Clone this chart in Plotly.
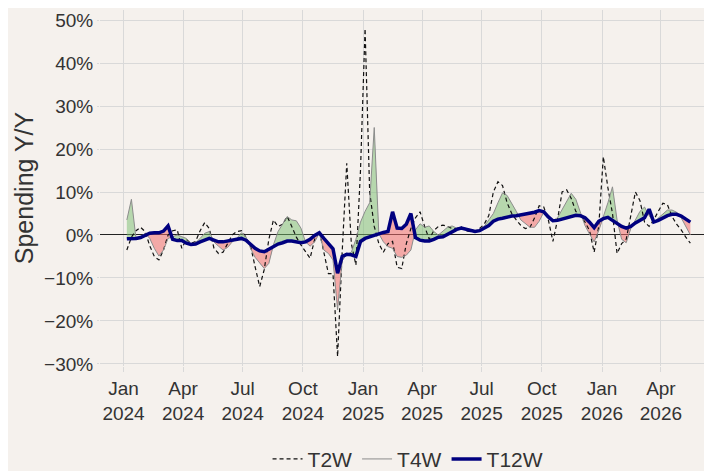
import numpy as np
import pandas as pd
import plotly.graph_objects as go

# weekly observation dates (week ending)
start_date = "2024-01-06"
n_weeks = 124
dates = pd.date_range(start_date, periods=n_weeks, freq="7D")

t2w = [-3.5, -0.5, 1.0, 1.8, 0.8, -2.5, -5.0, -5.8, -3.5, 0.0,
       1.0, 1.2, -3.1, -1.0, -2.0, -1.5, 1.0, 2.9, 1.5, -3.0,
       -4.3, -4.0, -2.0, 0.0, 0.8, 1.0, -0.5, -2.5, -7.4, -12.0,
       -8.0, -1.0, 3.5, 2.0, 2.5, 4.3, 2.0, -0.5, -2.3, -4.0,
       -5.4, -1.0, 1.0, -4.0, -9.0, -9.0, -28.3, -4.0, 16.7, -2.0,
       -7.0, 15.0, 48.0, 10.0, 2.0, -2.0, -4.0, -2.0, -1.5, -7.5,
       -7.8, -2.0, 1.5, 4.0, 5.4, 2.0, -1.0, 1.0, 2.0, 2.3,
       2.0, 1.5, 1.5, 1.9, 1.0, 0.8, 0.8, 1.5, 2.5, 4.5,
       10.0, 12.4, 11.5, 7.5, 5.0, 3.5, 2.2, 1.5, 1.8, 4.0,
       6.8, 6.5, 3.5, -1.5, 3.5, 10.0, 10.5, 8.5, 5.5, 4.5,
       3.0, 1.0, -4.0, 2.0, 18.2, 11.0, 5.0, -4.3, -2.0, -1.0,
       4.3, 10.0, 8.0, 3.0, 2.0, 3.5, 5.5, 7.4, 7.0, 4.3,
       2.5, 1.2, -0.5, -1.9]

t4w = [3.5, 8.3, -0.8, -0.4, 0.4, -0.8, -3.1, -4.9, -3.5, -0.8,
       -0.4, 0.0, -0.4, -0.8, -2.1, -1.8, -0.8, 0.4, 0.8, -1.6,
       -2.6, -3.5, -2.9, -1.6, -0.8, 0.5, -0.4, -3.1, -5.2, -6.6,
       -7.8, -6.6, -2.3, 0.8, 2.7, 4.3, 3.5, 3.3, 1.6, -1.6,
       -2.6, -1.6, 0.4, -3.5, -4.3, -5.8, -17.4, -6.0, -4.5, -4.0,
       -1.0, 3.0, 5.5, 7.5, 25.0, 0.3, -1.6, -2.7, -3.1, -5.0,
       -5.2, -4.7, -3.5, 1.2, 2.6, 1.8, 2.1, 0.8, 0.0, 0.8,
       1.8, 2.1, 1.6, 1.8, 1.5, 1.2, 1.0, 1.2, 2.0, 3.5,
       5.0, 7.5, 9.8, 9.2, 7.5, 5.5, 3.5, 2.7, 1.8, 1.8,
       3.2, 5.3, 4.3, 3.4, 4.0, 6.0, 8.0, 9.7, 8.3, 5.0,
       2.2, 0.2, -1.6, 1.0, 4.0, 7.5, 11.2, 3.5, -1.0, -1.8,
       1.5, 3.5, 5.5, 6.5, 4.5, 3.0, 4.0, 5.0, 5.8, 5.8,
       5.3, 4.0, 2.0, 0.0]

t12w = [-0.9, -0.9, -0.8, -0.6, -0.2, 0.4, 0.5, 0.5, 0.9, 2.1,
        -1.0, -1.3, -1.3, -1.9, -2.2, -2.1, -1.6, -1.3, -0.8, -1.2,
        -1.6, -1.6, -1.4, -1.2, -1.0, -0.8, -1.2, -2.1, -3.1, -3.7,
        -3.9, -3.3, -2.6, -2.1, -1.8, -1.4, -1.4, -1.6, -1.8, -1.6,
        -1.0, -0.1, 0.5, -0.8, -1.9, -3.2, -8.9, -5.0, -4.5, -4.6,
        -5.0, -1.5, -0.8, -0.4, -0.2, 0.2, 0.6, 0.8, 5.4, 1.6,
        1.5, 2.5, 5.0, -0.6, -1.2, -1.4, -1.4, -1.0, -0.5, -0.4,
        0.2, 0.8, 1.3, 1.6, 1.3, 1.0, 0.8, 1.0, 1.5, 2.2,
        3.2, 3.7, 3.9, 4.2, 4.4, 4.5, 4.7, 4.8, 5.1, 5.3,
        5.7, 5.4, 4.2, 3.3, 3.4, 3.7, 4.1, 4.5, 4.6, 4.5,
        4.0, 3.0, 1.7, 3.2, 3.8, 4.1, 3.4, 2.6, 2.0, 1.6,
        2.0, 2.8, 3.4, 4.0, 6.0, 3.0, 3.4, 4.0, 4.5, 4.8,
        4.8, 4.4, 3.8, 3.0]

x_tick_dates = ["2024-01-01", "2024-04-01", "2024-07-01", "2024-10-01",
                "2025-01-01", "2025-04-01", "2025-07-01", "2025-10-01",
                "2026-01-01", "2026-04-01"]
x_tick_labels = ["Jan<br>2024", "Apr<br>2024", "Jul<br>2024", "Oct<br>2024",
                 "Jan<br>2025", "Apr<br>2025", "Jul<br>2025", "Oct<br>2025",
                 "Jan<br>2026", "Apr<br>2026"]
y_tick_vals = [-30, -20, -10, 0, 10, 20, 30, 40, 50]
y_tick_labels = ["\u221230%", "\u221220%", "\u221210%", "0%", "10%", "20%", "30%", "40%", "50%"]

# ---- fill between T4W and T12W (green above, red below) ----
xn = dates.values.astype("datetime64[ns]").astype(np.int64).astype(float)
a = np.array(t4w, dtype=float)
b = np.array(t12w, dtype=float)
xs, aa, bb = [], [], []
for k in range(len(xn)):
    xs.append(xn[k]); aa.append(a[k]); bb.append(b[k])
    if k < len(xn) - 1:
        d0 = a[k] - b[k]
        d1 = a[k + 1] - b[k + 1]
        if d0 * d1 < 0:
            t = d0 / (d0 - d1)
            xc = xn[k] + t * (xn[k + 1] - xn[k])
            yc = a[k] + t * (a[k + 1] - a[k])
            xs.append(xc); aa.append(yc); bb.append(yc)
xs_dt = pd.to_datetime(np.array(xs).astype(np.int64))
aa = np.array(aa); bb = np.array(bb)
upper = np.maximum(aa, bb)
lower = np.minimum(aa, bb)

fig = go.Figure()
fig.add_trace(go.Scatter(x=xs_dt, y=bb, mode="lines", line=dict(width=0),
                         showlegend=False, hoverinfo="skip"))
fig.add_trace(go.Scatter(x=xs_dt, y=upper, mode="lines", line=dict(width=0),
                         fill="tonexty", fillcolor="rgba(120,190,110,0.5)",
                         showlegend=False, hoverinfo="skip"))
fig.add_trace(go.Scatter(x=xs_dt, y=bb, mode="lines", line=dict(width=0),
                         showlegend=False, hoverinfo="skip"))
fig.add_trace(go.Scatter(x=xs_dt, y=lower, mode="lines", line=dict(width=0),
                         fill="tonexty", fillcolor="rgba(240,110,110,0.55)",
                         showlegend=False, hoverinfo="skip"))

fig.add_trace(go.Scatter(x=dates, y=t2w, mode="lines", name="T2W",
                         line=dict(color="#111111", width=1.2, dash="4px,3px")))
fig.add_trace(go.Scatter(x=dates, y=t4w, mode="lines", name="T4W",
                         line=dict(color="#8c8c8c", width=1)))
fig.add_trace(go.Scatter(x=dates, y=t12w, mode="lines", name="T12W",
                         line=dict(color="#00007f", width=3.5)))

bg = "#F5F1ED"
fig.update_layout(
    width=704, height=463,
    paper_bgcolor=bg, plot_bgcolor=bg,
    margin=dict(l=92, r=2, t=2, b=105, autoexpand=False),
    font=dict(family="Liberation Sans, Arial, sans-serif", size=19, color="#333333"),
    legend=dict(orientation="h", x=0.505, xanchor="center",
                y=-0.262, yanchor="middle", font=dict(size=21),
                traceorder="normal",
                bgcolor="rgba(0,0,0,0)"),
    showlegend=True,
)
fig.update_xaxes(
    range=["2023-11-26", "2026-06-15"],
    tickvals=x_tick_dates, ticktext=x_tick_labels,
    showgrid=True, gridcolor="#D9D9D9", gridwidth=1.3,
    ticks="outside", ticklen=5, tickcolor="#D9D9D9",
    zeroline=False, showline=False, automargin=False,
    tickfont=dict(size=19, color="#333333"),
)
fig.update_yaxes(
    range=[-30.47, 52.33],
    tickvals=y_tick_vals, ticktext=y_tick_labels,
    showgrid=True, gridcolor="#D9D9D9", gridwidth=1.3,
    ticks="outside", ticklen=2, tickcolor="#D9D9D9",
    zeroline=True, zerolinecolor="#222222", zerolinewidth=1,
    showline=False, automargin=False,
    tickfont=dict(size=19, color="#333333"),
    title=dict(text="Spending Y/Y", font=dict(size=25, color="#333333"), standoff=3),
)

fig.write_html("out.html")
